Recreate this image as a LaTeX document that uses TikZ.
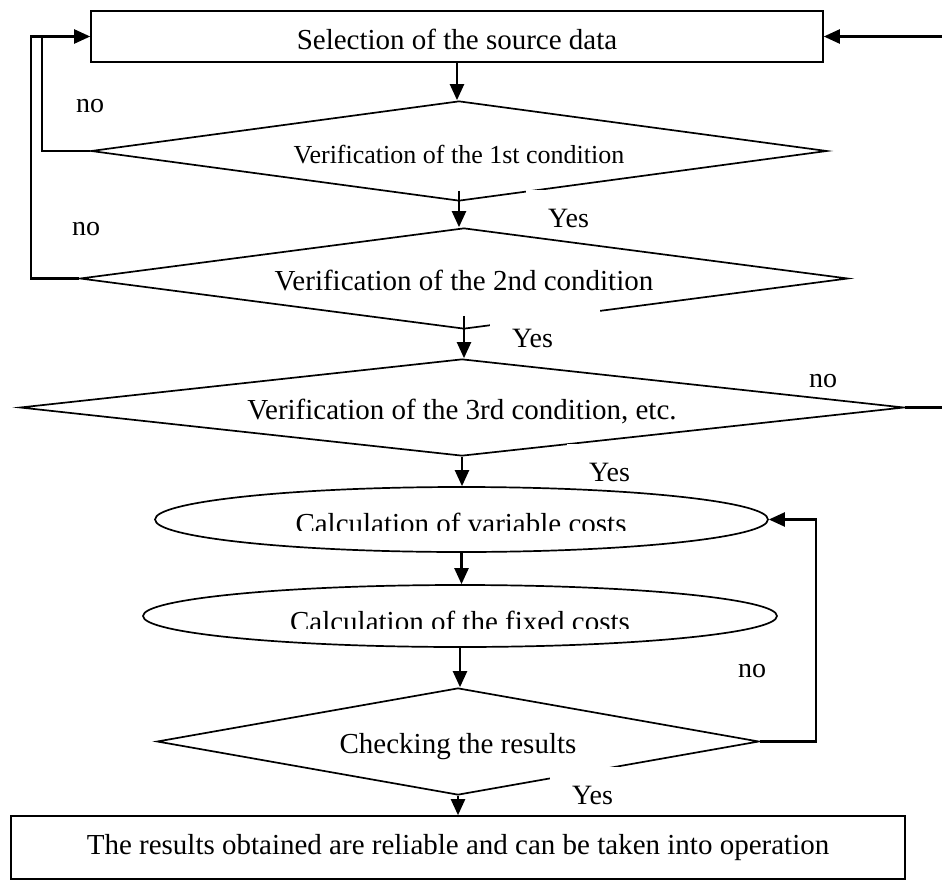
\documentclass[tikz,border=0pt]{standalone}
\usepackage{fontspec}
\setmainfont{Liberation Serif}
\usetikzlibrary{shapes.geometric,arrows.meta}
\begin{document}
\begin{tikzpicture}[x=1pt,y=-1pt,
  every node/.style={inner sep=0pt, font=\fontsize{29}{32}\selectfont},
  boxnode/.style={draw, line width=1.6pt, rectangle},
  dia/.style={draw, line width=1.7pt, diamond, aspect=8, text height=24pt, text depth=0pt},
  ell/.style={draw, line width=1.7pt, ellipse},
  flow/.style={line width=2.3pt, -{Triangle[length=16pt,width=14pt]}},
  fb/.style={line width=2.3pt},
  yes/.style={fill=white, anchor=north west, inner xsep=22pt, inner ysep=0pt, text width=66pt, align=left, text height=37pt, text depth=5pt, font=\fontsize{28}{30}\selectfont},
  nolbl/.style={anchor=base west, font=\fontsize{28}{30}\selectfont}]

\useasboundingbox (0,0) rectangle (942,880);
\fill[white] (0,0) rectangle (942,880);

% shapes
\node[boxnode, minimum width=732pt, minimum height=51pt, text height=27pt, text depth=0pt] (top) at (457,36.5) {Selection of the source data};
\node[dia, minimum width=736pt, minimum height=100pt, font=\fontsize{26}{28}\selectfont] (d1) at (459,151) {Verification of the 1st condition};
\node[dia, minimum width=768pt, minimum height=101pt] (d2) at (464,278.5) {Verification of the 2nd condition};
\node[dia, minimum width=884pt, minimum height=97pt] (d3) at (462,407.5) {Verification of the 3rd condition, etc.};
\node[ell, minimum width=613pt, minimum height=65pt] (e1) at (461.5,519.5) {};
\node[ell, minimum width=634pt, minimum height=62pt] (e2) at (460,616) {};
\node[dia, minimum width=602pt, minimum height=107pt] (d4) at (458,741.5) {Checking the results};
\node[boxnode, minimum width=894pt, minimum height=63pt] (res) at (458,847.5) {The results obtained are reliable and can be taken into operation};

% ellipse texts (cut off at the bottom as in the reference)
\begin{scope}
  \clip (0,0) rectangle (942,530);
  \node (e1t) at (461,523) {Calculation of variable costs};
\end{scope}
\begin{scope}
  \clip (0,560) rectangle (942,628);
  \node (e2t) at (460,621) {Calculation of the fixed costs};
\end{scope}

% main flow
\draw[flow] (top.south) -- (top.south |- d1.north);
\draw[flow] ([yshift=11pt]d1.south) -- (d1.south |- d2.north);
\draw[flow] ([yshift=14pt]d2.south) -- (d2.south |- d3.north);
\draw[flow] (d3.south) -- (d3.south |- e1.north);
\draw[flow] (e1.south) -- (e1.south |- e2.north);
\draw[flow] (e2.south) -- (e2.south |- d4.north);
\draw[flow] (d4.south) -- (d4.south |- res.north);

% feedback loops
\coordinate (l1) at (42,36.5);
\coordinate (l2) at (31,36.5);
\coordinate (r1) at (943.5,36.5);
\coordinate (r2) at (816,519.5);
\draw[fb] (d1.west) -| (l1);
\draw[flow] (d2.west) -| (l2) -- (top.west);
\draw[flow] (d3.east) -| (r1) -- (top.east);
\draw[flow] (d4.east) -| (r2) -- (e1.east);

% labels
\node[yes] (y1) at (526,190) {Yes};
\node[yes] (y2) at (490,310) {Yes};
\node[yes] (y3) at (567,444) {Yes};
\node[yes] (y4) at (550,767) {Yes};
\node[nolbl] (n1) at (76,113) {no};
\node[nolbl] (n2) at (72,235) {no};
\node[nolbl] (n3) at (809,387) {no};
\node[nolbl] (n4) at (738,677) {no};
\end{tikzpicture}
\end{document}
